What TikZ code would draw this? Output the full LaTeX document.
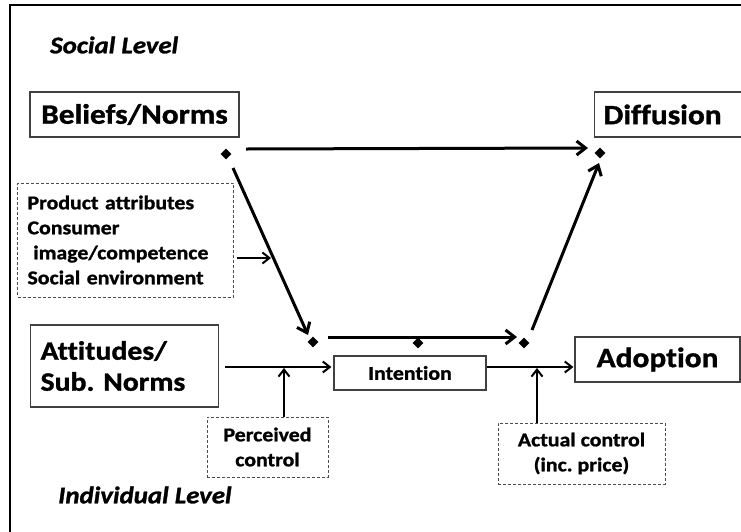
\documentclass[tikz,border=0pt]{standalone}
\usepackage{fontspec}
\setmainfont{Carlito}[FakeStretch=1.12,Ligatures={NoCommon},
  BoldFeatures={FakeBold=1.2},BoldItalicFeatures={FakeBold=1.2}]
\usetikzlibrary{arrows.meta,shapes.geometric}
\frenchspacing

\begin{document}
\begin{tikzpicture}[x=1pt,y=1pt,yscale=-1,
  box/.style={draw=black!75,line width=1.2pt,inner sep=0pt},
  dbox/.style={draw=black!70,dash pattern=on 3pt off 2pt,line width=1pt,inner sep=0pt},
  dia/.style={diamond,fill=black,inner sep=0pt,minimum size=11pt},
  big/.style={font=\bfseries\fontsize{28}{30}\selectfont},
  small/.style={font=\bfseries\fontsize{19.5}{25}\selectfont},
  level/.style={font=\bfseries\itshape\fontsize{24}{28}\selectfont,inner sep=0pt,anchor=west},
  link/.style={line width=3pt,-{Straight Barb[length=9pt,width=14pt]}},
  thinlink/.style={line width=2pt,-{Straight Barb[length=7pt,width=11pt]}}]
\useasboundingbox (0,0) rectangle (741,531);
%Shape: Frame
\draw[line width=2pt] (10,545) -- (10,5) -- (755,5);

% Text Node
\draw (50,45) node[level] (soc) {Social Level};
% Text Node
\draw (58,495) node[level] (ind) {Individual Level};

%Boxes
\draw (134.5,114.5) node[box,big,minimum width=209,minimum height=45] (bel) {Beliefs/Norms};
\draw (594,114.5) node[box,big,anchor=west,minimum height=45,text width=160,align=left,inner xsep=9pt] (dif) {Diffusion};
\draw (30,366) node[box,big,font=\bfseries\fontsize{26.5}{31}\selectfont,anchor=west,minimum height=82,text width=168,align=left,inner xsep=10pt] (att) {Attitudes/\\Sub. Norms};
\draw (410,373) node[box,small,minimum width=152,minimum height=34] (int) {Intention};
\draw (657.5,359.5) node[box,big,minimum width=165,minimum height=45] (ado) {Adoption};

%Dashed boxes
\draw (17,240) node[dbox,small,anchor=west,minimum height=114,text width=196,align=left,inner xsep=10pt] (attr) {Product attributes\\Consumer\\\hspace*{0.3em}image/competence\\Social environment};
\draw (267.5,447) node[dbox,small,minimum width=121,minimum height=60,align=center] (per) {Perceived\\control};
\draw (581.5,453.5) node[dbox,small,minimum width=167,minimum height=61,align=center] (act) {Actual control\\(inc. price)};

%Diamonds
\draw (226,154) node[dia] (d1) {};
\draw (600,153) node[dia] (d2) {};
\draw (313,342) node[dia] (d3) {};
\draw (418,343) node[dia] (d4) {};
\draw (524,343) node[dia] (d5) {};

%Thick arrows
\draw[link] ([shift={(20,-5)}]d1.center) -- ([shift={(-12,-5)}]d2.center);
\draw[link] ([shift={(7,14)}]d1.center) -- ([shift={(-5,-7)}]d3.center);
\draw[link] ([shift={(15,-5)}]d3.center) -- ([shift={(-7,-6)}]d5.center);
\draw[link] ([shift={(8,-13)}]d5.center) -- ([shift={(-1,10)}]d2.center);

%Thin arrows
\coordinate (hit) at (271,258);
\coordinate (pin) at (284,367);
\coordinate (ain) at (537,367);
\draw[thinlink,shorten <=3pt] (attr.east |- hit) -- (hit);
\draw[thinlink,shorten <=6pt,shorten >=2pt] (att.east |- pin) -- (int.west |- pin);
\draw[thinlink,shorten >=1pt] (per.north -| pin) -- (pin);
\draw[thinlink,shorten >=1pt] (int.east |- ain) -- (ado.west |- ain);
\draw[thinlink,shorten >=1pt] (act.north -| ain) -- (ain);
\end{tikzpicture}
\end{document}
